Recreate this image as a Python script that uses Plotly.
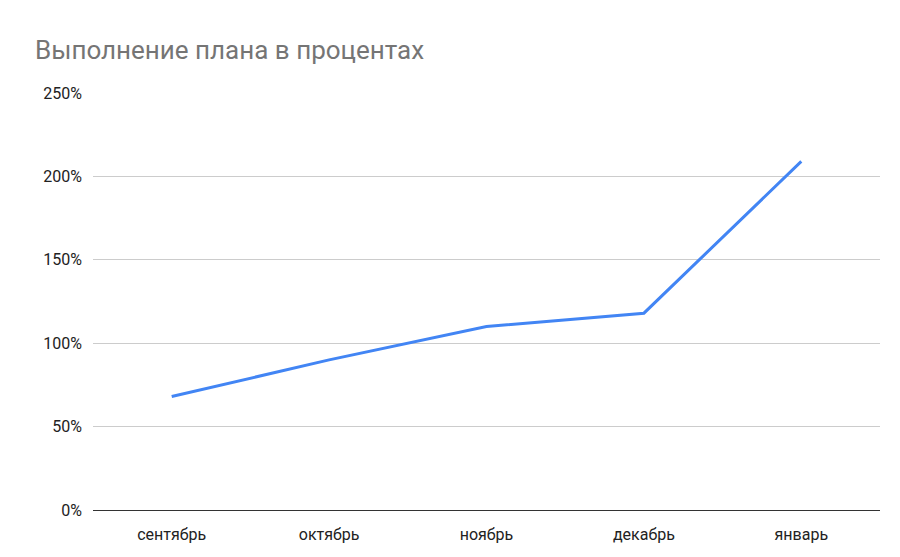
import plotly.graph_objects as go

months = ["сентябрь", "октябрь", "ноябрь", "декабрь", "январь"]
values = [0.68, 0.90, 1.10, 1.18, 2.09]
tick_vals = [0, 0.5, 1.0, 1.5, 2.0, 2.5]
tick_text = ["0%", "50%", "100%", "150%", "200%", "250%"]

fig = go.Figure(go.Scatter(x=months, y=values, mode="lines",
                           line=dict(color="#4285F4", width=3)))
fig.update_layout(
    width=900, height=557,
    paper_bgcolor="white", plot_bgcolor="white",
    font=dict(family="Roboto, Arial", size=16, color="#222"),
    title=dict(text="Выполнение плана в процентах", x=0.03, y=0.925,
               yanchor="middle", font=dict(size=26, color="#757575")),
    margin=dict(l=85, r=28, t=85, b=55),
    showlegend=False,
    xaxis=dict(showgrid=False, showline=True, linecolor="#333", ticks="",
               range=[-0.5, 4.5], ticklabelstandoff=10),
    yaxis=dict(range=[0, 2.5], tickvals=tick_vals, ticktext=tick_text,
               gridcolor="#cccccc", zeroline=False, ticks="",
               ticklabelstandoff=10),
)
fig.write_html("out.html")
